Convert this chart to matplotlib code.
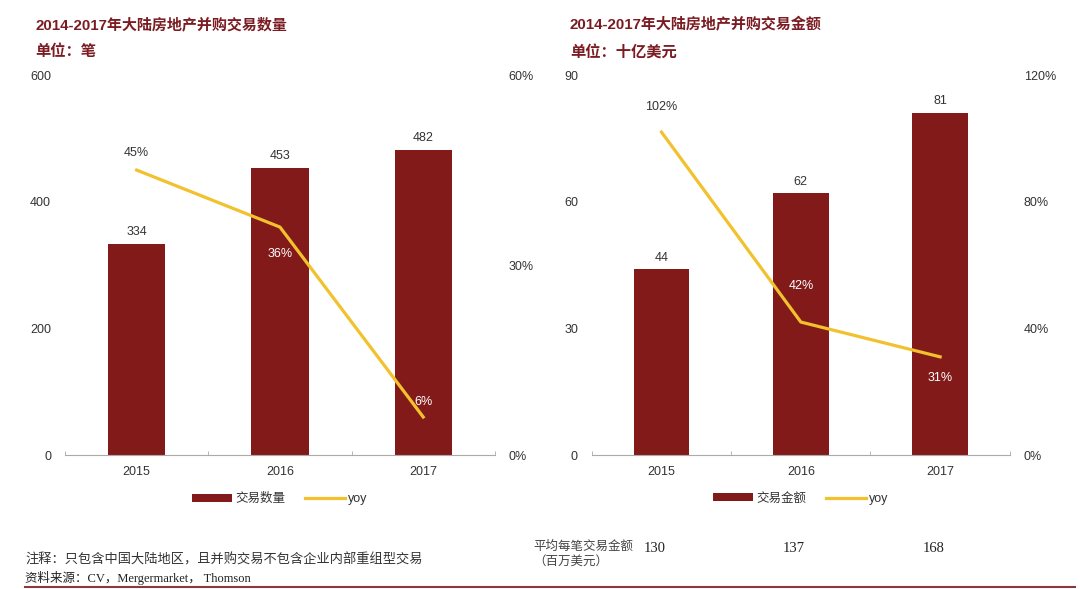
import numpy as np
import matplotlib
matplotlib.use("Agg")
import matplotlib.pyplot as plt
from matplotlib.patches import Patch
from matplotlib.lines import Line2D
from matplotlib.ticker import FuncFormatter

plt.rcParams['font.family'] = ['Liberation Sans', 'Noto Sans CJK SC', 'DejaVu Sans']

# data
years = ['2015', '2016', '2017']
deal_count = [334, 453, 482]
count_yoy = [0.45, 0.36, 0.06]
deal_value = [44, 62, 81]
value_yoy = [1.02, 0.42, 0.31]
avg_deal = ['130', '137', '168']

BAR = '#831a1a'
LINE = '#f2c12e'
TITLE = '#7a1c22'
TXT = '#333333'
SERIF = ['Liberation Serif', 'Noto Sans CJK SC']

fig = plt.figure(figsize=(10.8, 5.89), dpi=100)


def pct(v, _):
    return f'{v * 100:.0f}%'


def panel(rect, bars, yoy, ymax, yticks, rmax, rticks, bar_name, yoy_pos):
    ax = fig.add_axes(rect)
    x = np.arange(len(years))
    ax.bar(x, bars, width=0.4, color=BAR, zorder=2)
    ax.set_xlim(-0.5, len(years) - 0.5)
    ax.set_ylim(0, ymax)
    ax.set_yticks(yticks)
    ax.set_xticks(x)
    ax.set_xticklabels(years)
    ax.set_xticks(np.arange(-0.5, len(years)), minor=True)
    ax.tick_params(axis='x', which='major', length=0, pad=8, labelsize=9, labelcolor=TXT)
    ax.tick_params(axis='x', which='minor', length=3, direction='in', color='#aaaaaa')
    ax.tick_params(axis='y', length=0, pad=10, labelsize=9, labelcolor=TXT)
    for s in ['top', 'left', 'right']:
        ax.spines[s].set_visible(False)
    ax.spines['bottom'].set_color('#aaaaaa')
    for xi, v in zip(x, bars):
        ax.text(xi, v + ymax * 0.015, str(v), ha='center', va='bottom', fontsize=9, color=TXT)

    ax2 = ax.twinx()
    ax2.plot(x, yoy, color=LINE, lw=2.3, zorder=3)
    ax2.set_ylim(0, rmax)
    ax2.set_yticks(rticks)
    ax2.yaxis.set_major_formatter(FuncFormatter(pct))
    ax2.tick_params(axis='y', length=0, pad=10, labelsize=9, labelcolor=TXT)
    for s in ax2.spines.values():
        s.set_visible(False)
    for xi, v, (dy, col) in zip(x, yoy, yoy_pos):
        ax2.text(xi, v + dy * rmax, f'{v * 100:.0f}%', ha='center', va='center',
                 fontsize=9, color=col)

    handles = [Patch(facecolor=BAR), Line2D([0], [0], color=LINE, lw=2.3)]
    ax.legend(handles, [bar_name, 'yoy'], loc='upper center', bbox_to_anchor=(0.5, -0.07),
              ncol=2, frameon=False, fontsize=9, handlelength=3.2, handleheight=0.6,
              columnspacing=1.5, handletextpad=0.3, labelcolor=TXT)
    return ax


ax_l = panel([0.0602, 0.2275, 0.398, 0.645], deal_count, count_yoy, 600, [0, 200, 400, 600],
             0.6, [0, 0.3, 0.6], '交易数量',
             [(0.045, TXT), (-0.07, 'white'), (0.04, 'white')])
ax_r = panel([0.548, 0.2275, 0.387, 0.645], deal_value, value_yoy, 90, [0, 30, 60, 90],
             1.2, [0, 0.4, 0.8, 1.2], '交易金额',
             [(0.065, TXT), (0.095, 'white'), (-0.055, 'white')])

# titles
for x0, title, unit in [(35, '2014-2017年大陆房地产并购交易数量', '单位：笔'),
                        (570, '2014-2017年大陆房地产并购交易金额', '单位：十亿美元')]:
    fig.text(x0 / 1080, 1 - 25 / 589, title, fontsize=10.8,
             fontweight='bold', color=TITLE, va='center')
    fig.text(x0 / 1080, 1 - 52 / 589, unit, fontsize=11,
             fontweight='bold', color=TITLE, va='center')

# average deal size row
fig.text(533 / 1080, 1 - 554 / 589, '平均每笔交易金额\n（百万美元）', fontsize=9,
         color='#444444', va='center', linespacing=1.35)
tr = ax_r.get_xaxis_transform()
for xi, s in zip(np.arange(len(avg_deal)), avg_deal):
    ax_r.text(xi - 0.05, -0.245, s, transform=tr, ha='center', va='center',
              fontsize=10.5, color='#222222', family='Liberation Serif')

# footnotes
fig.text(25 / 1080, 1 - 560 / 589, '注释：只包含中国大陆地区，且并购交易不包含企业内部重组型交易',
         fontsize=9.5, color='#333333', va='center', style='italic', family=SERIF)
fig.text(25 / 1080, 1 - 578 / 589, '资料来源：CV，Mergermarket， Thomson',
         fontsize=9, color='#222222', va='center', family=SERIF)
fig.add_artist(Line2D([25 / 1080, 1075 / 1080], [1 - 587 / 589] * 2, color='#8b3a3a', lw=1.5))

fig.savefig('out.png', dpi=100)
